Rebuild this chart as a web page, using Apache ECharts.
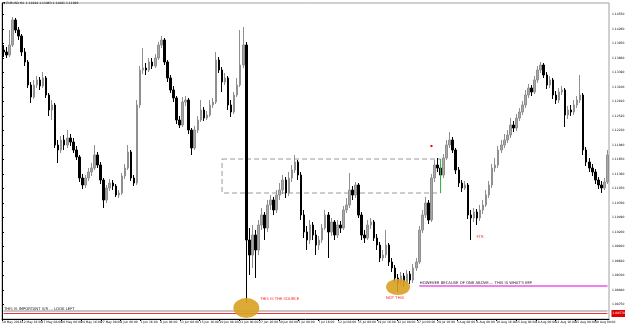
<!DOCTYPE html>
<html lang="en">
<head>
    <meta charset="UTF-8">
    <script src="https://cdn.jsdelivr.net/npm/echarts@6/dist/echarts.min.js"></script>
    <title>EURUSD H4</title>
    <style>
        html, body { margin: 0; padding: 0; background: #fff; }
        #main { width: 625px; height: 329px; }
    </style>
</head>
<body>
    <div id="main"></div>
    <script>
        // bars as [open, close, low, high]
        // 10 May - 8 Jun
        var bars1 = [
            [1.1384,1.1380,1.1370,1.1394],[1.1380,1.1374,1.1368,1.1390],[1.1374,1.1394,1.1370,1.1424],[1.1394,1.1444,1.1390,1.1450],
            [1.1444,1.1424,1.1418,1.1448],[1.1424,1.1412,1.1404,1.1430],[1.1412,1.1380,1.1372,1.1416],[1.1380,1.1360,1.1352,1.1388],
            [1.1360,1.1314,1.1308,1.1364],[1.1314,1.1290,1.1278,1.1320],[1.1290,1.1314,1.1286,1.1324],[1.1314,1.1324,1.1308,1.1332],
            [1.1324,1.1312,1.1304,1.1330],[1.1312,1.1328,1.1308,1.1340],[1.1328,1.1294,1.1288,1.1332],[1.1294,1.1264,1.1252,1.1298],
            [1.1264,1.1274,1.1244,1.1284],[1.1274,1.1194,1.1188,1.1278],[1.1194,1.1184,1.1158,1.1204],[1.1184,1.1204,1.1178,1.1212],
            [1.1204,1.1194,1.1184,1.1214],[1.1194,1.1208,1.1188,1.1224],[1.1208,1.1200,1.1192,1.1216],[1.1200,1.1184,1.1178,1.1208],
            [1.1184,1.1170,1.1164,1.1192],[1.1170,1.1128,1.1120,1.1174],[1.1128,1.1114,1.1106,1.1136],[1.1114,1.1128,1.1108,1.1134],
            [1.1128,1.1140,1.1122,1.1148],[1.1140,1.1148,1.1132,1.1158],[1.1148,1.1174,1.1144,1.1194],[1.1174,1.1154,1.1148,1.1180],
            [1.1154,1.1124,1.1116,1.1160],[1.1124,1.1084,1.1068,1.1128],[1.1084,1.1108,1.1078,1.1114],[1.1108,1.1118,1.1102,1.1126],
            [1.1118,1.1112,1.1104,1.1124],[1.1112,1.1094,1.1090,1.1116],[1.1094,1.1098,1.1088,1.1104],[1.1098,1.1132,1.1094,1.1138],
            [1.1132,1.1148,1.1126,1.1156],[1.1148,1.1180,1.1144,1.1194],[1.1180,1.1128,1.1122,1.1184],[1.1128,1.1118,1.1112,1.1134],
            [1.1118,1.1274,1.1114,1.1284],[1.1274,1.1344,1.1268,1.1352],[1.1344,1.1348,1.1336,1.1388],[1.1348,1.1344,1.1334,1.1358],
            [1.1344,1.1360,1.1340,1.1368],[1.1360,1.1352,1.1346,1.1368]
        ];
        // 8 Jun - 1 Jul
        var bars2 = [
            [1.1352,1.1368,1.1348,1.1376],[1.1368,1.1394,1.1364,1.1400],[1.1394,1.1404,1.1388,1.1412],[1.1404,1.1360,1.1354,1.1408],
            [1.1360,1.1328,1.1320,1.1364],[1.1328,1.1304,1.1298,1.1334],[1.1304,1.1288,1.1280,1.1312],[1.1288,1.1244,1.1236,1.1292],
            [1.1244,1.1234,1.1228,1.1252],[1.1234,1.1280,1.1230,1.1290],[1.1280,1.1284,1.1272,1.1292],[1.1284,1.1224,1.1216,1.1288],
            [1.1224,1.1188,1.1174,1.1228],[1.1188,1.1224,1.1184,1.1232],[1.1224,1.1244,1.1218,1.1252],[1.1244,1.1264,1.1240,1.1284],
            [1.1264,1.1248,1.1242,1.1270],[1.1248,1.1254,1.1244,1.1262],[1.1254,1.1274,1.1250,1.1284],[1.1274,1.1280,1.1268,1.1288],
            [1.1280,1.1364,1.1276,1.1380],[1.1364,1.1344,1.1338,1.1370],[1.1344,1.1320,1.1300,1.1350],[1.1320,1.1328,1.1314,1.1338],
            [1.1328,1.1274,1.1264,1.1332],[1.1274,1.1260,1.1250,1.1284],[1.1260,1.1294,1.1256,1.1300],[1.1294,1.1314,1.1290,1.1328],
            [1.1314,1.1354,1.1310,1.1424],[1.1354,1.1394,1.1348,1.1430],[1.1394,1.1004,1.0878,1.1400],[1.1004,1.0974,1.0934,1.1028],
            [1.0974,1.1014,1.0948,1.1034],[1.1014,1.0984,1.0928,1.1024],[1.0984,1.1034,1.0974,1.1044],[1.1034,1.1054,1.1024,1.1068],
            [1.1054,1.1028,1.1004,1.1060],[1.1028,1.1074,1.1020,1.1084],[1.1074,1.1084,1.1064,1.1094],[1.1084,1.1064,1.1054,1.1090],
            [1.1064,1.1094,1.1058,1.1104],[1.1094,1.1104,1.1084,1.1118],[1.1104,1.1124,1.1096,1.1134],[1.1124,1.1098,1.1088,1.1130],
            [1.1098,1.1128,1.1092,1.1140],[1.1128,1.1144,1.1120,1.1154],[1.1144,1.1160,1.1138,1.1174],[1.1160,1.1134,1.1124,1.1164],
            [1.1134,1.1054,1.1044,1.1140],[1.1054,1.1020,1.1008,1.1064]
        ];
        // 1 Jul - 3 Aug
        var bars3 = [
            [1.1020,1.1004,1.0984,1.1032],[1.1004,1.1034,1.0996,1.1044],[1.1034,1.1014,1.1004,1.1040],[1.1014,1.0994,1.0974,1.1024],
            [1.0994,1.1004,1.0984,1.1012],[1.1004,1.1028,1.0998,1.1036],[1.1028,1.1054,1.1024,1.1064],[1.1054,1.1020,1.0968,1.1060],
            [1.1020,1.1040,1.1012,1.1048],[1.1040,1.1014,1.1004,1.1044],[1.1014,1.1034,1.1008,1.1044],[1.1034,1.1028,1.1018,1.1042],
            [1.1028,1.1064,1.1024,1.1072],[1.1064,1.1074,1.1058,1.1088],[1.1074,1.1104,1.1068,1.1138],[1.1104,1.1094,1.1084,1.1112],
            [1.1094,1.1114,1.1088,1.1120],[1.1114,1.1054,1.1048,1.1118],[1.1054,1.1014,1.1004,1.1060],[1.1014,1.1008,1.0998,1.1024],
            [1.1008,1.1034,1.1004,1.1044],[1.1034,1.1040,1.1026,1.1048],[1.1040,1.1008,1.1002,1.1044],[1.1008,1.0994,1.0984,1.1016],
            [1.0994,1.0968,1.0960,1.1000],[1.0968,1.0974,1.0962,1.0984],[1.0974,1.0994,1.0968,1.1024],[1.0994,1.0960,1.0952,1.0998],
            [1.0960,1.0948,1.0940,1.0968],[1.0948,1.0928,1.0920,1.0954],[1.0928,1.0918,1.0900,1.0936],[1.0918,1.0932,1.0912,1.0940],
            [1.0932,1.0920,1.0910,1.0938],[1.0920,1.0936,1.0914,1.0944],[1.0936,1.0924,1.0916,1.0942],[1.0924,1.0948,1.0918,1.0956],
            [1.0948,1.0960,1.0942,1.0968],[1.0960,1.1024,1.0956,1.1032],[1.1024,1.1054,1.1018,1.1064],[1.1054,1.1078,1.1048,1.1090],
            [1.1078,1.1044,1.1036,1.1084],[1.1044,1.1128,1.1040,1.1136],[1.1128,1.1154,1.1120,1.1164],[1.1154,1.1148,1.1140,1.1168],
            [1.1148,1.1134,1.1124,1.1156],[1.1134,1.1168,1.1128,1.1176],[1.1168,1.1194,1.1164,1.1204],[1.1194,1.1204,1.1188,1.1220],
            [1.1204,1.1184,1.1178,1.1210],[1.1184,1.1144,1.1136,1.1188]
        ];
        // 3 Aug - 1 Sep
        var bars4 = [
            [1.1144,1.1118,1.1110,1.1150],[1.1118,1.1108,1.1100,1.1124],[1.1108,1.1114,1.1104,1.1122],[1.1114,1.1054,1.1046,1.1118],
            [1.1054,1.1048,1.1004,1.1064],[1.1048,1.1060,1.1040,1.1068],[1.1060,1.1048,1.1034,1.1066],[1.1048,1.1064,1.1042,1.1074],
            [1.1064,1.1074,1.1056,1.1084],[1.1074,1.1094,1.1070,1.1104],[1.1094,1.1114,1.1088,1.1122],[1.1114,1.1148,1.1108,1.1156],
            [1.1148,1.1154,1.1140,1.1168],[1.1154,1.1184,1.1148,1.1192],[1.1184,1.1194,1.1178,1.1204],[1.1194,1.1204,1.1188,1.1216],
            [1.1204,1.1214,1.1198,1.1224],[1.1214,1.1234,1.1208,1.1248],[1.1234,1.1228,1.1220,1.1242],[1.1228,1.1248,1.1222,1.1256],
            [1.1248,1.1260,1.1242,1.1268],[1.1260,1.1274,1.1254,1.1282],[1.1274,1.1294,1.1268,1.1304],[1.1294,1.1308,1.1288,1.1316],
            [1.1308,1.1300,1.1292,1.1314],[1.1300,1.1324,1.1296,1.1332],[1.1324,1.1344,1.1318,1.1352],[1.1344,1.1354,1.1338,1.1360],
            [1.1354,1.1334,1.1328,1.1358],[1.1334,1.1314,1.1306,1.1340],[1.1314,1.1324,1.1308,1.1332],[1.1324,1.1294,1.1286,1.1328],
            [1.1294,1.1284,1.1276,1.1302],[1.1284,1.1300,1.1278,1.1308],[1.1300,1.1304,1.1294,1.1312],[1.1304,1.1254,1.1230,1.1308],
            [1.1254,1.1264,1.1246,1.1272],[1.1264,1.1260,1.1252,1.1274],[1.1260,1.1274,1.1254,1.1284],[1.1274,1.1284,1.1268,1.1292],
            [1.1284,1.1294,1.1278,1.1334],[1.1294,1.1184,1.1174,1.1298],[1.1184,1.1160,1.1152,1.1190],[1.1160,1.1148,1.1140,1.1168],
            [1.1148,1.1140,1.1132,1.1156],[1.1140,1.1124,1.1116,1.1146],[1.1124,1.1114,1.1106,1.1130],[1.1114,1.1108,1.1098,1.1122],
            [1.1108,1.1120,1.1104,1.1128],[1.1120,1.1174,1.1116,1.1184]
        ];
        var timeLabels = ['10 May 2016', '12 May 16:00', '17 May 08:00', '20 May 00:00', '24 May 16:00', '27 May 08:00',
            '1 Jun 00:00', '3 Jun 16:00', '8 Jun 08:00', '13 Jun 00:00', '15 Jun 16:00', '20 Jun 08:00', '23 Jun 00:00',
            '27 Jun 16:00', '30 Jun 08:00', '5 Jul 00:00', '7 Jul 16:00', '12 Jul 08:00', '15 Jul 00:00', '19 Jul 16:00',
            '22 Jul 08:00', '27 Jul 00:00', '29 Jul 16:00', '3 Aug 08:00', '8 Aug 00:00', '10 Aug 16:00', '15 Aug 08:00',
            '18 Aug 00:00', '22 Aug 16:00', '25 Aug 08:00', '30 Aug 00:00'];
        var priceMin = 1.0846, priceMax = 1.1478, priceStep = 0.0029;

        // drawn objects: horizontal levels and the zone
        var redLevel = 1.0857;
        var greyLevel = 1.0862;
        var pinkLevel = 1.0912;
        var zone = { from: 72, to: 144, top: 1.1166, bottom: 1.1098 };

        var bars = bars1.concat(bars2, bars3, bars4);
        var cats = bars.map(function (b, i) { return String(i); });
        var last = bars.length - 1;

        var chart = echarts.init(document.getElementById('main'));
        var FONT = 'DejaVu Sans';

        function note(idx, price, text, color, pos) {
            return {
                coord: [idx, price], symbol: 'rect', symbolSize: 1,
                itemStyle: { color: 'rgba(0,0,0,0)' },
                label: {
                    show: true, position: pos || 'inside', distance: 0, formatter: text,
                    fontSize: 3.8, fontFamily: FONT, color: color
                }
            };
        }
        function level(points, color, width) {
            return {
                type: 'line', xAxisIndex: 0, data: points, symbol: 'none', silent: true, z: 3,
                lineStyle: { color: color, width: width }
            };
        }

        var option = {
            animation: false,
            backgroundColor: '#fff',
            grid: {
                left: 2, right: 16, top: 3, bottom: 10, outerBoundsMode: 'none', containLabel: false,
                show: true, borderColor: '#a0a0a0', borderWidth: 1
            },
            xAxis: [
                { type: 'category', data: cats, show: false, boundaryGap: true },
                {
                    type: 'value', min: 0, max: 30.7, interval: 1, position: 'bottom',
                    axisLine: { show: true, onZero: false, lineStyle: { color: '#000', width: 1 } },
                    axisTick: { show: true, length: 2, lineStyle: { color: '#000' } },
                    splitLine: { show: false },
                    axisLabel: {
                        show: true, margin: 2, align: 'left', fontSize: 3, fontFamily: FONT, color: '#000',
                        showMinLabel: true, showMaxLabel: false, hideOverlap: false,
                        formatter: function (v) { return timeLabels[Math.round(v)] || ''; }
                    }
                }
            ],
            yAxis: {
                type: 'value', position: 'right', min: priceMin, max: priceMax, interval: priceStep,
                axisLine: { show: true, lineStyle: { color: '#000', width: 1 } },
                axisTick: { show: true, length: 2, lineStyle: { color: '#000' } },
                splitLine: { show: false },
                axisLabel: {
                    margin: 3, fontSize: 3, fontFamily: FONT, color: '#000',
                    showMinLabel: false, showMaxLabel: false,
                    formatter: function (v) { return v.toFixed(5); }
                }
            },
            graphic: [
                { type: 'text', left: 3, top: 2, style: { text: '\u25BC EURUSD,H4  1.11924 1.11963 1.11881 1.11926', fontSize: 3, fontFamily: FONT, fill: '#000' } }
            ],
            series: [
                {
                    // ellipses sit under the bars
                    type: 'line', xAxisIndex: 0, data: [], z: 1,
                    markPoint: {
                        silent: true,
                        data: [
                            { coord: [80, 1.0868], symbol: 'circle', symbolSize: [26, 20], itemStyle: { color: '#d9a021', opacity: 0.9 }, label: { show: false } },
                            { coord: [130, 1.0910], symbol: 'circle', symbolSize: [24, 16], itemStyle: { color: '#d9a021', opacity: 0.9 }, label: { show: false } }
                        ]
                    }
                },
                level([[0, greyLevel], [last, greyLevel]], '#8c8c8c', 1),
                {
                    type: 'line', xAxisIndex: 0, data: [[0, redLevel], [last, redLevel]], symbol: 'none', silent: true, z: 3,
                    lineStyle: { color: '#f03030', width: 1 },
                    endLabel: {
                        show: true, distance: 4, formatter: redLevel.toFixed(5),
                        backgroundColor: '#e00000', color: '#fff', fontSize: 3, fontFamily: FONT, padding: [2, 1]
                    }
                },
                level([[137, pinkLevel], [last, pinkLevel]], '#f080f0', 2),
                level([[zone.to, zone.bottom], [zone.to, zone.top]], '#3cb043', 1),
                {
                    type: 'candlestick', xAxisIndex: 0, z: 2,
                    data: bars,
                    barWidth: 2,
                    itemStyle: { color: '#a8a8a8', color0: '#000', borderColor: '#909090', borderColor0: '#000', borderWidth: 1 },
                    markArea: {
                        silent: true,
                        itemStyle: { color: 'rgba(0,0,0,0)', borderColor: '#9a9a9a', borderWidth: 1, borderType: [5, 3] },
                        data: [[{ coord: [zone.from, zone.top] }, { coord: [zone.to, zone.bottom] }]]
                    },
                    markPoint: {
                        silent: true,
                        data: [
                            note(91, 1.0885, 'THIS IS THE SOURCE', '#ff2020'),
                            note(129, 1.0888, 'NOT THIS', '#ff2020'),
                            note(137, 1.0918, 'HOWEVER BECAUSE OF ONE ABOVE.... THIS IS WHAT\'S IMP', '#222', 'right'),
                            note(157, 1.1010, 'FTR', '#ff2020'),
                            note(0, 1.0866, 'THIS IS IMPORTANT S/R ... LOOK LEFT', '#222', 'right'),
                            { coord: [141, 1.1192], symbol: 'rect', symbolSize: [2, 2], itemStyle: { color: '#ff0000' }, label: { show: false } }
                        ]
                    }
                }
            ]
        };

        chart.setOption(option);
    </script>
</body>
</html>
